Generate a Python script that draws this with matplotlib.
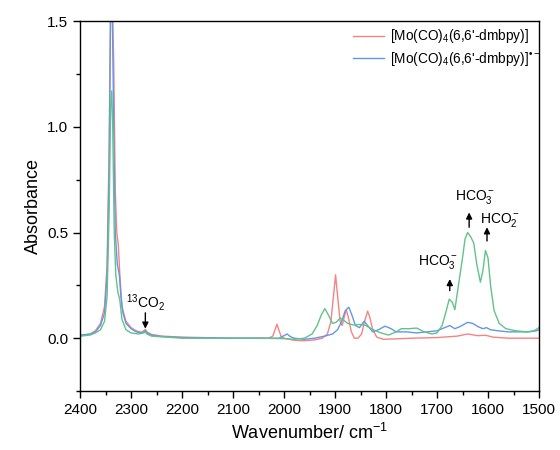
import numpy as np
import matplotlib
matplotlib.use("Agg")
import matplotlib.pyplot as plt

plt.rcParams['font.family'] = ['Liberation Sans', 'DejaVu Sans']
plt.rcParams['mathtext.fontset'] = 'custom'
plt.rcParams['mathtext.rm'] = 'Liberation Sans'
plt.rcParams['mathtext.default'] = 'regular'

# neutral complex
wn_red = [2400, 2380, 2370, 2360, 2352, 2347, 2343, 2340, 2337, 2334, 2331, 2328, 2325, 2322,
          2318, 2310, 2300, 2290, 2280, 2275, 2272, 2269, 2260, 2240, 2200, 2100, 2030, 2022,
          2017, 2014, 2011, 2006, 2000, 1980, 1960, 1940, 1925, 1915, 1908, 1903, 1899, 1895,
          1890, 1886, 1881, 1878, 1874, 1868, 1862, 1855, 1848, 1842, 1836, 1832, 1826, 1818,
          1805, 1780, 1750, 1700, 1660, 1640, 1620, 1605, 1590, 1560, 1500]
abs_red = [0.01, 0.02, 0.035, 0.07, 0.15, 0.35, 0.9, 1.6, 1.6, 1.3, 0.7, 0.5, 0.44, 0.3,
           0.15, 0.08, 0.05, 0.035, 0.028, 0.035, 0.042, 0.03, 0.018, 0.01, 0.005, 0.0, 0.0, 0.01,
           0.045, 0.066, 0.045, 0.01, 0.0, -0.01, -0.012, -0.008, 0.0, 0.02, 0.08, 0.2, 0.30, 0.2,
           0.08, 0.06, 0.11, 0.135, 0.1, 0.03, 0.0, 0.0, 0.02, 0.08, 0.128, 0.1, 0.04, 0.005,
           -0.005, -0.003, 0.0, 0.003, 0.01, 0.02, 0.012, 0.014, 0.005, 0.0, 0.0]

# radical anion
wn_blue = [2400, 2380, 2370, 2360, 2352, 2347, 2343, 2340, 2337, 2334, 2331, 2327, 2323, 2320,
           2316, 2310, 2300, 2290, 2280, 2275, 2272, 2269, 2260, 2240, 2200, 2100, 2010, 2000,
           1994, 1988, 1980, 1960, 1940, 1920, 1905, 1895, 1887, 1880, 1873, 1867, 1860, 1852,
           1843, 1836, 1826, 1815, 1802, 1790, 1780, 1760, 1740, 1720, 1700, 1690, 1675, 1665,
           1655, 1640, 1630, 1620, 1610, 1603, 1595, 1580, 1560, 1540, 1520, 1505, 1500]
abs_blue = [0.015, 0.02, 0.03, 0.06, 0.12, 0.3, 0.8, 1.6, 1.6, 1.0, 0.5, 0.35, 0.3, 0.2,
            0.12, 0.07, 0.045, 0.03, 0.025, 0.03, 0.036, 0.025, 0.015, 0.008, 0.003, 0.0, 0.0, 0.012,
            0.02, 0.008, 0.0, -0.005, 0.0, 0.01, 0.02, 0.04, 0.08, 0.13, 0.147, 0.11, 0.06, 0.05,
            0.08, 0.06, 0.03, 0.04, 0.057, 0.045, 0.03, 0.03, 0.025, 0.03, 0.035, 0.045, 0.06, 0.045,
            0.055, 0.075, 0.07, 0.055, 0.045, 0.05, 0.04, 0.035, 0.03, 0.03, 0.03, 0.035, 0.04]

# after CO2 reaction
wn_green = [2400, 2380, 2370, 2360, 2352, 2347, 2343, 2340, 2338, 2336, 2333, 2330, 2326, 2322,
            2318, 2310, 2300, 2285, 2275, 2272, 2269, 2260, 2200, 2050, 2000, 1980, 1960, 1945,
            1935, 1927, 1920, 1913, 1905, 1898, 1890, 1883, 1875, 1865, 1850, 1840, 1825, 1810,
            1795, 1780, 1770, 1755, 1740, 1725, 1710, 1700, 1690, 1683, 1676, 1670, 1665, 1658,
            1650, 1645, 1640, 1634, 1628, 1622, 1615, 1610, 1605, 1600, 1595, 1588, 1578, 1565,
            1545, 1525, 1510, 1500]
abs_green = [0.01, 0.015, 0.025, 0.04, 0.08, 0.2, 0.6, 1.1, 1.17, 1.0, 0.5, 0.3, 0.22, 0.18,
             0.09, 0.04, 0.025, 0.02, 0.025, 0.03, 0.02, 0.01, 0.0, 0.0, -0.002, -0.005, 0.0, 0.02,
             0.06, 0.11, 0.14, 0.11, 0.07, 0.075, 0.095, 0.085, 0.07, 0.063, 0.065, 0.06, 0.04, 0.025,
             0.015, 0.03, 0.045, 0.045, 0.048, 0.03, 0.02, 0.025, 0.06, 0.12, 0.185, 0.17, 0.135, 0.25,
             0.38, 0.47, 0.50, 0.48, 0.45, 0.35, 0.265, 0.32, 0.415, 0.38, 0.25, 0.13, 0.07, 0.045,
             0.035, 0.03, 0.035, 0.05]

labels = ["[Mo(CO)$_4$(6,6'-dmbpy)]", "[Mo(CO)$_4$(6,6'-dmbpy)]$^{\u2022-}$"]

# annotations: text, text position, arrow tail, arrow head
notes = [("$^{13}$CO$_2$", (2272, 0.17), (2272, 0.12), (2272, 0.045)),
         ("HCO$_3^-$", (1698, 0.36), (1675, 0.225), (1675, 0.28)),
         ("HCO$_3^-$", (1626, 0.67), (1637, 0.525), (1637, 0.595)),
         ("HCO$_2^-$", (1577, 0.56), (1602, 0.46), (1602, 0.525))]

fig = plt.figure(figsize=(5.6, 4.5), dpi=100)
ax = fig.add_axes([0.143, 0.131, 0.8195, 0.822])

ax.plot(wn_red, abs_red, color='#f48484', lw=1.0, label=labels[0])
ax.plot(wn_blue, abs_blue, color='#6496e8', lw=1.0, label=labels[1])
ax.plot(wn_green, abs_green, color='#62c28a', lw=1.0)

for txt, pos, tail, head in notes:
    ax.text(pos[0], pos[1], txt, fontsize=10, ha='center', va='center')
    ax.annotate('', xy=head, xytext=tail,
                arrowprops=dict(arrowstyle='-|>', color='black', lw=1.0,
                                mutation_scale=9, shrinkA=0, shrinkB=0))

ax.set_xlim(2400, 1500)
ax.set_ylim(-0.25, 1.5)
ax.set_xticks(np.arange(2400, 1499, -100))
ax.set_xticks(np.arange(2350, 1500, -100), minor=True)
ax.set_yticks([0.0, 0.5, 1.0, 1.5])
ax.set_yticks([-0.25, 0.25, 0.75, 1.25], minor=True)
ax.tick_params(which='both', direction='out', top=False, right=False, labelsize=11)
ax.tick_params(which='major', length=5, width=1)
ax.tick_params(which='minor', length=3, width=1)
for s in ax.spines.values():
    s.set_linewidth(1.0)

ax.set_xlabel('Wavenumber/ cm$^{-1}$', fontsize=13)
ax.set_ylabel('Absorbance', fontsize=13)

ax.legend(loc='upper right', bbox_to_anchor=(1.015, 0.998), fontsize=9.8, frameon=False,
          borderaxespad=0, handlelength=2.3, handletextpad=0.45, labelspacing=0.35)

fig.savefig('out.png', dpi=100)
